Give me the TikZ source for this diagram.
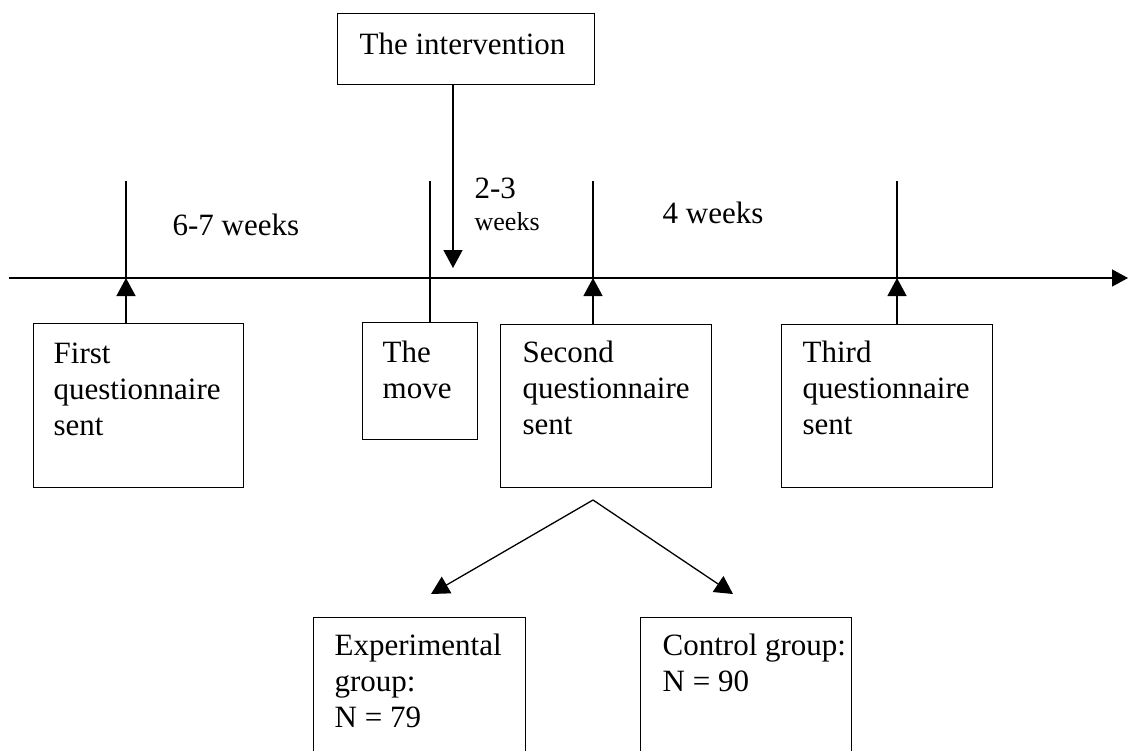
\documentclass[tikz,border=0pt]{standalone}
\usepackage{fontspec}
\setmainfont{Liberation Serif}
\usetikzlibrary{arrows.meta,calc}
% multi-line text whose reference point is the first baseline
\newcommand{\stack}[1]{\begin{tabular}[t]{@{}l@{}}#1\end{tabular}}
\begin{document}
\begin{tikzpicture}[x=0.5pt,y=-0.5pt,
  line width=0.65pt,
  box/.style={draw, rectangle, anchor=north west, inner sep=0pt},
  txt/.style={anchor=base west, inner sep=0pt, font=\fontsize{15.5}{18}\selectfont},
  small/.style={anchor=base west, inner sep=0pt, font=\fontsize{13}{15}\selectfont},
  arr/.style={-{Triangle[length=9pt,width=9.5pt]}}]
\useasboundingbox (0,0) rectangle (1128,750);
\clip (0,0) rectangle (1128,750);

% points on the time axis
\coordinate (tl0) at (9,278);
\coordinate (tl1) at (1128,278);
\coordinate (p1) at (126,278);
\coordinate (p2) at (430,278);
\coordinate (p3) at (593,278);
\coordinate (p4) at (897,278);
\coordinate (ivx) at (453,268);

% boxes
\node[box, minimum width=128.5pt, minimum height=35.5pt] (iv) at (337,13) {};
\node[box, minimum width=105pt, minimum height=82pt] (q1) at (33,323) {};
\node[box, minimum width=57.5pt, minimum height=58.5pt] (mv) at (362,322) {};
\node[box, minimum width=105.5pt, minimum height=81.5pt] (q2) at (500,324) {};
\node[box, minimum width=105.5pt, minimum height=81.5pt] (q3) at (781,324) {};
\node[box, minimum width=106pt, minimum height=80pt] (eg) at (313,617) {};
\node[box, minimum width=105.5pt, minimum height=80pt] (cg) at (640,617) {};

% box texts
\node[txt] (ivt) at ($(iv.north west)+(22,41)$) {The intervention};
\node[txt] (q1t) at ($(q1.north west)+(20,40)$) {\stack{First\\questionnaire\\sent}};
\node[txt] (mvt) at ($(mv.north west)+(20,40)$) {\stack{The\\move}};
\node[txt] (q2t) at ($(q2.north west)+(22,38)$) {\stack{Second\\questionnaire\\sent}};
\node[txt] (q3t) at ($(q3.north west)+(21,38)$) {\stack{Third\\questionnaire\\sent}};
\node[txt] (egt) at ($(eg.north west)+(21,38)$) {\stack{Experimental\\group:\\N = 79}};
\node[txt] (cgt) at ($(cg.north west)+(22,38)$) {\stack{Control group:\\N = 90}};

% interval labels
\node[txt] (w1) at (172,235) {6-7 weeks};
\node[txt] (w2) at (474,198) {2-3};
\node[small] (w2b) at (474,230) {weeks};
\node[txt] (w3) at (662,223) {4 weeks};

% time axis
\draw[-{Triangle[length=8pt,width=8.5pt]}] (tl0) -- (tl1);

% markers above the axis
\draw (p1) -- ++(0,-97);
\draw (p3) -- ++(0,-97);
\draw (p4) -- ++(0,-97);
\draw (mv.north -| p2) -- ++(0,-141);

% arrows from the boxes to the axis
\draw[arr] (q1.north -| p1) -- (p1);
\draw[arr] (q2.north -| p3) -- (p3);
\draw[arr] (q3.north -| p4) -- (p4);
\draw[arr] (iv.south -| ivx) -- (ivx);

% split into the two groups
\coordinate (apex) at (593,500);
\coordinate (eTip) at (431,594);
\coordinate (cTip) at (733,594);
\draw[arr] (apex) -- (eTip);
\draw[arr] (apex) -- (cTip);
\end{tikzpicture}
\end{document}
